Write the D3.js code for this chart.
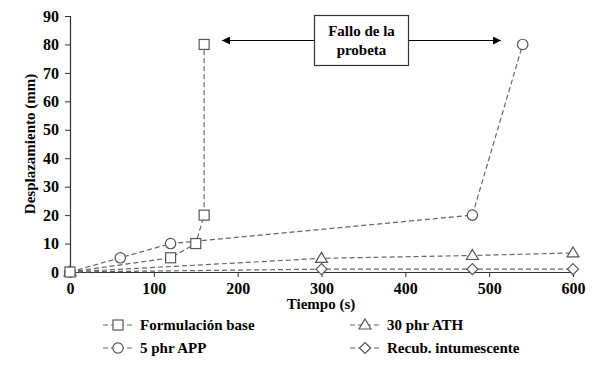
<!DOCTYPE html>
<html><head><meta charset="utf-8">
<script src="https://cdn.jsdelivr.net/npm/d3@7/dist/d3.min.js"></script>
<style>body{margin:0;background:#fff}svg{display:block}</style>
</head><body><svg id="c" width="600" height="367"></svg>
<script>
const seriesNames = ["Formulación base", "5 phr APP", "30 phr ATH", "Recub. intumescente"];
const seriesSymbols = ["square", "circle", "triangle", "diamond"];
const baseT = [0, 120, 150, 160, 160];
const baseD = [0, 5, 10, 20, 80];
const appT = [0, 60, 120, 480, 540];
const appD = [0, 5, 10, 20, 80];
const athT = [0, 300, 480, 600];
const athD = [0, 4.8, 5.8, 6.7];
const intT = [0, 300, 480, 600];
const intD = [0, 1, 1, 1];
const xTicks = [0, 100, 200, 300, 400, 500, 600];
const yTicks = [0, 10, 20, 30, 40, 50, 60, 70, 80, 90];
const annotation = ["Fallo de la", "probeta"];

const series = [
  {name: seriesNames[0], sym: seriesSymbols[0], t: baseT, d: baseD},
  {name: seriesNames[1], sym: seriesSymbols[1], t: appT, d: appD},
  {name: seriesNames[2], sym: seriesSymbols[2], t: athT, d: athD},
  {name: seriesNames[3], sym: seriesSymbols[3], t: intT, d: intD}
];

const FONT = '"Liberation Serif", "Times New Roman", serif';
const svg = d3.select("#c");
const x = d3.scaleLinear().domain([0, 600]).range([70, 573]);
const y = d3.scaleLinear().domain([0, 90]).range([272, 16]);
const axisCol = "#333";
const lineCol = "#666";
const markCol = "#555";

const gx = svg.append("g").attr("transform", "translate(0,272)")
  .call(d3.axisBottom(x).tickValues(xTicks).tickSize(5).tickFormat(d3.format("d")));
const gy = svg.append("g").attr("transform", "translate(70,0)")
  .call(d3.axisLeft(y).tickValues(yTicks).tickSize(5).tickFormat(d3.format("d")));
[gx, gy].forEach(g => {
  g.attr("font-family", null).attr("font-size", null);
  g.select(".domain").attr("stroke", axisCol).attr("stroke-width", 1.2);
  g.selectAll(".tick line").attr("stroke", axisCol).attr("stroke-width", 1);
  g.selectAll(".tick text").attr("fill", "#000").attr("font-size", 16)
    .attr("font-family", FONT).attr("font-weight", "bold");
});
gx.selectAll(".tick text").attr("dy", "0.85em");
gy.selectAll(".tick text").attr("x", -11);

svg.append("text").attr("x", 321).attr("y", 309).attr("text-anchor", "middle")
  .attr("font-family", FONT).attr("font-weight", "bold").attr("font-size", 15).text("Tiempo (s)");
svg.append("text").attr("transform", "translate(35,144) rotate(-90)")
  .attr("text-anchor", "middle").attr("font-family", FONT).attr("font-weight", "bold").attr("font-size", 15).text("Desplazamiento (mm)");

function drawSym(g, sym, cx, cy) {
  let el;
  if (sym === "square") el = g.append("rect").attr("x", cx - 5).attr("y", cy - 5).attr("width", 10).attr("height", 10);
  else if (sym === "circle") el = g.append("circle").attr("cx", cx).attr("cy", cy).attr("r", 5.2);
  else if (sym === "triangle") el = g.append("path").attr("d", `M${cx},${cy-6}L${cx+6},${cy+4}L${cx-6},${cy+4}Z`);
  else el = g.append("path").attr("d", `M${cx},${cy-5.5}L${cx+5.5},${cy}L${cx},${cy+5.5}L${cx-5.5},${cy}Z`);
  el.attr("fill", "#fff").attr("stroke", markCol).attr("stroke-width", 1.2);
}

const line = d3.line().x(p => x(p[0])).y(p => y(p[1]));
const order = [3, 2, 1, 0];
order.forEach(i => {
  const s = series[i];
  const pts = s.t.map((t, k) => [t, s.d[k]]);
  svg.append("path").attr("d", line(pts)).attr("fill", "none")
    .attr("stroke", lineCol).attr("stroke-width", 1.2).attr("stroke-dasharray", "5,3");
});
order.forEach(i => {
  const s = series[i];
  const g = svg.append("g");
  s.t.forEach((t, k) => drawSym(g, s.sym, x(t), y(s.d[k])));
});

const defs = svg.append("defs");
defs.append("marker").attr("id", "ah").attr("viewBox", "0 0 10 10").attr("refX", 10).attr("refY", 5)
  .attr("markerWidth", 10).attr("markerHeight", 8).attr("markerUnits", "userSpaceOnUse").attr("orient", "auto")
  .append("path").attr("d", "M0,0L10,5L0,10Z").attr("fill", "#000");
svg.append("rect").attr("x", 314.5).attr("y", 15.5).attr("width", 94).attr("height", 50)
  .attr("fill", "#fff").attr("stroke", "#333").attr("stroke-width", 1.2);
svg.append("text").attr("x", 361.5).attr("y", 36).attr("text-anchor", "middle").attr("font-family", FONT).attr("font-weight", "bold").attr("font-size", 15).text(annotation[0]);
svg.append("text").attr("x", 361.5).attr("y", 55).attr("text-anchor", "middle").attr("font-family", FONT).attr("font-weight", "bold").attr("font-size", 15).text(annotation[1]);
svg.append("line").attr("x1", 314).attr("y1", 40.5).attr("x2", 222).attr("y2", 40.5)
  .attr("stroke", "#000").attr("stroke-width", 1.2).attr("marker-end", "url(#ah)");
svg.append("line").attr("x1", 409).attr("y1", 40.5).attr("x2", 501).attr("y2", 40.5)
  .attr("stroke", "#000").attr("stroke-width", 1.2).attr("marker-end", "url(#ah)");

const legPos = [[103, 325], [103, 348], [350, 325], [350, 348]];
series.forEach((s, i) => {
  const [lx, ly] = legPos[i];
  const g = svg.append("g");
  g.append("line").attr("x1", lx).attr("x2", lx + 30).attr("y1", ly).attr("y2", ly)
    .attr("stroke", lineCol).attr("stroke-width", 1.2).attr("stroke-dasharray", "5,3");
  drawSym(g, s.sym, lx + 15, ly);
  g.append("text").attr("x", lx + 37).attr("y", ly + 5).attr("font-family", FONT).attr("font-weight", "bold").attr("font-size", 15).text(s.name);
});
</script></body></html>
